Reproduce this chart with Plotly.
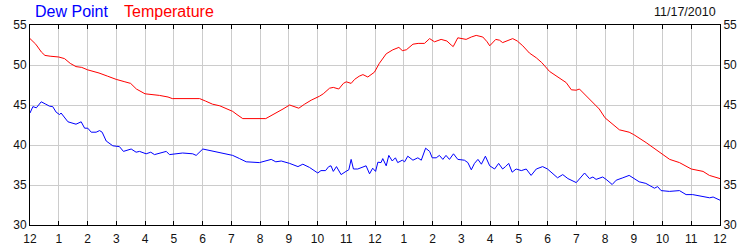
import plotly.graph_objects as go

# Temperature readings (hour of day, deg F)
temp_hours = [0, 0.2, 0.4, 0.52, 0.7, 1.0, 1.2, 1.4, 1.6, 1.8, 2.0, 2.4, 2.7, 3.0, 3.3, 3.5, 3.7, 4.0,
              4.5, 4.8, 4.95, 5.9, 6.1, 6.35, 6.6, 6.85, 7.05, 7.2, 7.4, 8.2, 8.45, 8.6, 8.8, 9.03, 9.2,
              9.35, 9.55, 9.78, 10.07, 10.2, 10.42, 10.55, 10.74, 10.9, 11.0, 11.17, 11.29, 11.45, 11.58,
              11.75, 11.98, 12.15, 12.39, 12.62, 12.83, 12.95, 13.09, 13.32, 13.5, 13.72, 13.9, 14.07,
              14.3, 14.5, 14.65, 14.72, 14.88, 15.17, 15.35, 15.52, 15.75, 15.9, 15.99, 16.2, 16.33,
              16.44, 16.79, 16.95, 17.14, 17.37, 17.61, 17.8, 18.07, 18.42, 18.65, 18.83, 19.0, 19.11,
              19.3, 19.58, 19.8, 20.0, 20.25, 20.5, 20.84, 21.0, 21.43, 21.7, 22.0, 22.25, 22.59, 23.0,
              23.41, 23.63, 24]
temp_values = [53.3, 52.6, 51.6, 51.2, 51.1, 51.0, 50.8, 50.2, 49.8, 49.7, 49.4, 49.0, 48.6, 48.2, 47.9,
               47.7, 47.0, 46.4, 46.2, 46.0, 45.8, 45.8, 45.5, 45.1, 44.9, 44.5, 44.2, 43.8, 43.3, 43.3,
               43.8, 44.0, 44.5, 45.0, 44.8, 44.6, 45.1, 45.6, 46.1, 46.4, 47.1, 47.2, 47.0, 47.7, 47.9,
               47.7, 48.2, 48.6, 48.8, 48.5, 49.1, 50.2, 51.4, 51.9, 52.2, 51.8, 51.9, 52.6, 52.7, 52.7,
               53.3, 52.9, 53.2, 53.0, 52.5, 52.3, 53.4, 53.2, 53.5, 53.7, 53.5, 52.9, 52.4, 53.2, 53.1,
               52.8, 53.3, 53.0, 52.4, 51.5, 50.9, 50.3, 49.2, 48.3, 47.8, 46.9, 46.85, 47.0, 46.3, 45.3,
               44.5, 43.4, 42.6, 41.9, 41.6, 41.3, 40.3, 39.6, 38.8, 38.2, 37.8, 37.0, 36.7, 36.2, 35.8]

# Dew point readings (hour of day, deg F)
dew_hours = [0, 0.1, 0.22, 0.39, 0.55, 0.68, 0.79, 0.91, 1.03, 1.08, 1.32, 1.6, 1.78, 1.9, 2.01, 2.13,
             2.3, 2.42, 2.51, 2.65, 2.88, 3.11, 3.25, 3.52, 3.69, 3.81, 4.04, 4.2, 4.33, 4.5, 4.74, 4.85,
             5.31, 5.66, 5.78, 6.01, 6.36, 6.82, 7.05, 7.29, 7.52, 7.98, 8.39, 8.55, 8.74, 9.03, 9.32,
             9.49, 9.72, 10.01, 10.12, 10.28, 10.39, 10.47, 10.55, 10.66, 10.82, 10.99, 11.09, 11.17,
             11.25, 11.4, 11.69, 11.81, 11.92, 12.02, 12.1, 12.21, 12.27, 12.39, 12.48, 12.6, 12.71,
             12.79, 12.95, 13.03, 13.14, 13.32, 13.49, 13.61, 13.76, 13.9, 13.99, 14.13, 14.24, 14.36,
             14.47, 14.59, 14.73, 14.88, 15.11, 15.23, 15.35, 15.46, 15.58, 15.7, 15.84, 15.99, 16.16,
             16.3, 16.44, 16.54, 16.65, 16.77, 16.91, 17.09, 17.26, 17.43, 17.61, 17.83, 18.0, 18.35,
             18.53, 18.71, 19.0, 19.29, 19.46, 19.58, 19.69, 19.92, 20.04, 20.25, 20.39, 20.62, 20.84,
             21.19, 21.42, 21.72, 21.83, 21.95, 22.24, 22.59, 22.82, 23.05, 23.41, 23.64, 23.76, 24]
dew_values = [44.0, 44.8, 44.65, 45.4, 45.1, 44.85, 44.8, 44.1, 43.8, 44.0, 42.9, 42.6, 42.9, 42.1, 42.1,
              41.6, 41.6, 41.8, 41.6, 40.5, 39.9, 39.8, 39.2, 39.5, 39.1, 39.2, 38.9, 39.1, 38.8, 39.0,
              39.2, 38.8, 39.0, 38.9, 38.7, 39.5, 39.2, 38.9, 38.7, 38.3, 37.9, 37.8, 38.2, 37.9, 38.0,
              37.7, 37.3, 37.6, 37.2, 36.5, 36.8, 36.8, 37.3, 37.4, 36.7, 37.3, 36.3, 36.7, 36.9, 38.2,
              37.0, 37.0, 37.4, 36.4, 37.1, 36.7, 37.85, 37.8, 38.3, 37.4, 38.7, 38.0, 38.4, 37.8, 38.1,
              37.9, 38.6, 38.1, 38.4, 38.1, 39.6, 39.2, 38.4, 38.4, 38.7, 38.2, 38.7, 38.2, 38.9, 38.2,
              38.1, 37.8, 36.9, 37.7, 38.2, 37.6, 38.6, 37.4, 37.0, 37.7, 37.0, 37.3, 37.7, 36.6, 37.0,
              36.8, 37.0, 36.2, 37.0, 37.3, 37.0, 35.9, 36.3, 35.8, 35.3, 36.5, 35.8, 36.0, 35.7, 36.0,
              35.7, 35.06, 35.6, 35.9, 36.2, 35.4, 35.2, 34.6, 34.8, 34.3, 34.2, 34.3, 33.8, 33.8, 33.5,
              33.4, 33.5, 33.1]

tick_hours = list(range(25))
tick_labels = ["12", "1", "2", "3", "4", "5", "6", "7", "8", "9", "10", "11",
               "12", "1", "2", "3", "4", "5", "6", "7", "8", "9", "10", "11", "12"]
y_ticks = [30, 35, 40, 45, 50, 55]
date_label = "11/17/2010"

FONT = "Liberation Sans, Arial, sans-serif"

fig = go.Figure()
fig.add_trace(go.Scatter(x=dew_hours, y=dew_values, mode="lines", name="Dew Point",
                         line=dict(color="#0000ff", width=1), yaxis="y"))
fig.add_trace(go.Scatter(x=temp_hours, y=temp_values, mode="lines", name="Temperature",
                         line=dict(color="#ff0000", width=1), yaxis="y2"))

axis_common = dict(range=[30, 55], tickvals=y_ticks, showgrid=True, gridcolor="#cccccc",
                   gridwidth=1, zeroline=False, showline=True, linecolor="black", linewidth=1,
                   ticks="", automargin=False,
                   tickfont=dict(family=FONT, size=12, color="#111111"), fixedrange=True)

fig.update_layout(
    width=750, height=250,
    margin=dict(l=30, r=30, t=25, b=25),
    paper_bgcolor="white", plot_bgcolor="white",
    showlegend=False,
    xaxis=dict(range=[0, 24], tickvals=tick_hours, ticktext=tick_labels, showgrid=True,
               gridcolor="#cccccc", gridwidth=1, zeroline=False, showline=True, linecolor="black",
               linewidth=1, mirror="ticks", ticks="inside", ticklen=4, tickcolor="black",
               ticklabelstandoff=3, automargin=False,
               tickfont=dict(family=FONT, size=12, color="#111111")),
    yaxis=dict(side="left", **axis_common),
    yaxis2=dict(side="right", overlaying="y", **axis_common),
)

# Legend-like labels and date as paper annotations
fig.add_annotation(text="Dew Point", xref="paper", yref="paper", x=(33 - 30) / 690, y=1 + (25 - 11.5) / 200,
                   xanchor="left", yanchor="middle", showarrow=False,
                   font=dict(family=FONT, size=16, color="#0000ff"))
fig.add_annotation(text="Temperature", xref="paper", yref="paper", x=(122 - 30) / 690, y=1 + (25 - 11.5) / 200,
                   xanchor="left", yanchor="middle", showarrow=False,
                   font=dict(family=FONT, size=16, color="#ff0000"))
fig.add_annotation(text=date_label, xref="paper", yref="paper", x=(718 - 30) / 690, y=1 + (25 - 12) / 200,
                   xanchor="right", yanchor="middle", showarrow=False,
                   font=dict(family=FONT, size=12.5, color="#111111"))

fig.write_html("out.html")
